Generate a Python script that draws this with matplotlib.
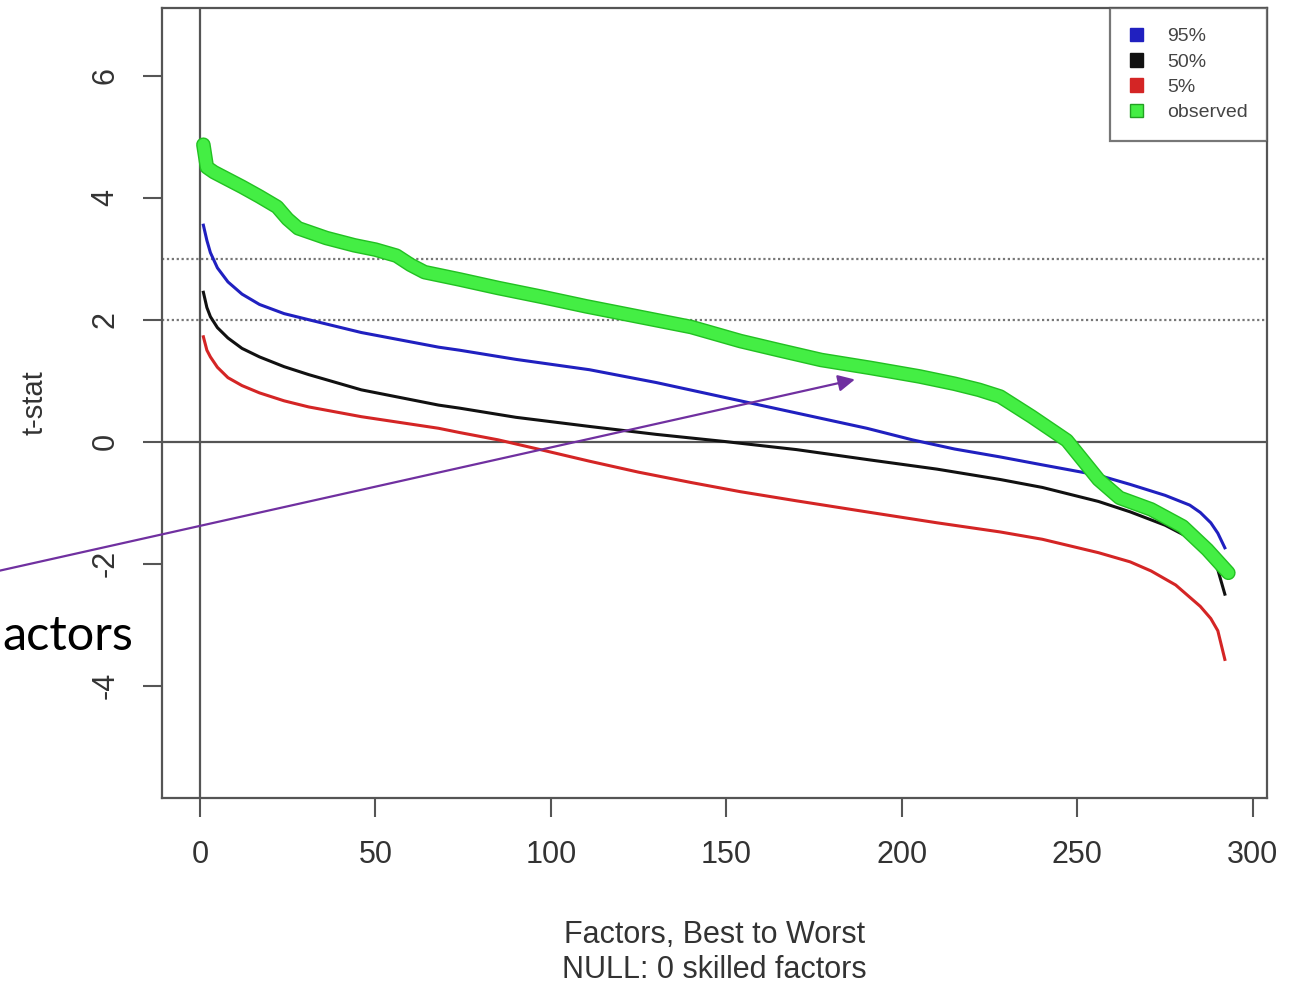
import matplotlib
matplotlib.use('Agg')
import matplotlib.pyplot as plt
import matplotlib.patheffects as pe
from matplotlib.patches import Patch

plt.rcParams['font.family'] = ['Liberation Sans', 'DejaVu Sans']
plt.rcParams['axes.unicode_minus'] = False

# values (factor rank -> t-stat)
x_95 = [1, 2, 3, 5, 8, 12, 17, 24, 31, 46, 68, 74, 90, 111, 130, 150, 170, 190, 203, 215, 228, 240, 256, 265, 275, 282, 285, 288, 290, 292]
t_95 = [3.55, 3.3, 3.1, 2.85, 2.62, 2.42, 2.25, 2.1, 2.0, 1.79, 1.55, 1.5, 1.35, 1.18, 0.97, 0.72, 0.47, 0.22, 0.03, -0.12, -0.25, -0.38, -0.55, -0.7, -0.88, -1.04, -1.16, -1.33, -1.5, -1.74]

x_50 = [1, 2, 3, 5, 8, 12, 17, 24, 31, 46, 68, 74, 90, 111, 130, 150, 170, 191, 210, 228, 240, 256, 265, 275, 282, 285, 288, 290, 292]
t_50 = [2.45, 2.2, 2.05, 1.87, 1.7, 1.53, 1.39, 1.23, 1.1, 0.85, 0.6, 0.55, 0.4, 0.25, 0.12, 0.0, -0.13, -0.3, -0.45, -0.62, -0.75, -0.98, -1.15, -1.37, -1.58, -1.7, -1.9, -2.1, -2.5]

x_05 = [1, 2, 3, 5, 8, 12, 17, 24, 31, 46, 68, 74, 85, 97, 111, 125, 140, 154, 170, 191, 210, 228, 240, 256, 265, 271, 278, 285, 288, 290, 292]
t_05 = [1.72, 1.5, 1.39, 1.22, 1.05, 0.92, 0.8, 0.67, 0.57, 0.41, 0.22, 0.15, 0.03, -0.13, -0.32, -0.5, -0.67, -0.82, -0.97, -1.16, -1.33, -1.48, -1.6, -1.82, -1.97, -2.12, -2.35, -2.7, -2.9, -3.1, -3.57]

x_obs = [1, 2, 4, 8, 12, 17, 22, 25, 28, 36, 44, 50, 56, 60, 64, 74, 85, 97, 110, 125, 140, 154, 165, 177, 191, 205, 215, 222, 228, 237, 247, 256, 262, 271, 280, 287, 293]
t_obs = [4.87, 4.5, 4.42, 4.3, 4.18, 4.02, 3.85, 3.65, 3.5, 3.34, 3.22, 3.15, 3.05, 2.9, 2.78, 2.66, 2.52, 2.38, 2.22, 2.05, 1.88, 1.65, 1.5, 1.34, 1.21, 1.07, 0.95, 0.85, 0.74, 0.41, 0.02, -0.62, -0.92, -1.11, -1.39, -1.77, -2.15]

x_ticks = [0, 50, 100, 150, 200, 250, 300]
y_ticks = [-4, -2, 0, 2, 4, 6]
ref_lines = [2, 3]

fig = plt.figure(figsize=(13.04, 9.85), dpi=100)
ax = fig.add_axes([0.1242, 0.190, 0.8474, 0.8018])
ax.set_xlim(-10.8, 304)
ax.set_ylim(-5.84, 7.11)

ax.axhline(0, color='#555555', lw=1.6, zorder=1)
ax.axvline(0, color='#555555', lw=1.6, zorder=1)
for y in ref_lines:
    ax.axhline(y, color='#777777', lw=1.6, ls=(0, (1, 1.2)), zorder=1)

ax.plot(x_95, t_95, color='#2020c0', lw=2.2, zorder=3)
ax.plot(x_50, t_50, color='#111111', lw=2.2, zorder=3)
ax.plot(x_05, t_05, color='#d42525', lw=2.2, zorder=3)
ax.plot(x_obs, t_obs, color='#44ee44', lw=8.5, solid_capstyle='round',
        solid_joinstyle='round', zorder=4,
        path_effects=[pe.Stroke(linewidth=10.5, foreground='#22c022'), pe.Normal()])

for s in ax.spines.values():
    s.set_color('#555555')
    s.set_linewidth(1.6)
ax.set_xticks(x_ticks)
ax.set_yticks(y_ticks)
ax.tick_params(axis='both', length=14, width=1.5, color='#555555',
               labelsize=22, labelcolor='#333333')
ax.tick_params(axis='x', pad=16)
ax.tick_params(axis='y', pad=16, labelrotation=90)
for lab in ax.get_yticklabels():
    lab.set_va('center')

ax.set_xlabel('Factors, Best to Worst\nNULL: 0 skilled factors', fontsize=22,
              color='#333333', labelpad=36, linespacing=1.25)
ax.set_ylabel('t-stat', fontsize=21, color='#333333', labelpad=30)

handles = [Patch(facecolor='#2020c0', edgecolor='#2020c0'),
           Patch(facecolor='#111111', edgecolor='#111111'),
           Patch(facecolor='#d42525', edgecolor='#d42525'),
           Patch(facecolor='#44ee44', edgecolor='#22a022')]
leg = ax.legend(handles, ['95%', '50%', '5%', 'observed'], loc='upper right',
                borderaxespad=0, fontsize=14, frameon=True, fancybox=False,
                handlelength=0.7, handleheight=0.7, handletextpad=1.2,
                labelspacing=0.4, borderpad=1.0, labelcolor='#444444')
leg.get_frame().set_edgecolor('#555555')
leg.get_frame().set_linewidth(1.6)
leg.set_zorder(5)

# purple callout arrow running in from the left edge
ax.annotate('', xy=(186.6, 1.02), xycoords='data',
            xytext=(-0.02, 0.4148), textcoords='figure fraction',
            annotation_clip=False,
            arrowprops=dict(arrowstyle='-|>', color='#7030a0', lw=1.6,
                            mutation_scale=25, shrinkA=0, shrinkB=0))
fig.text(2 / 1304, 1 - 650 / 985, 'actors', fontsize=35, family=['Lato', 'DejaVu Sans'],
         ha='left', va='baseline', color='black')

fig.savefig('out.png', dpi=100)
